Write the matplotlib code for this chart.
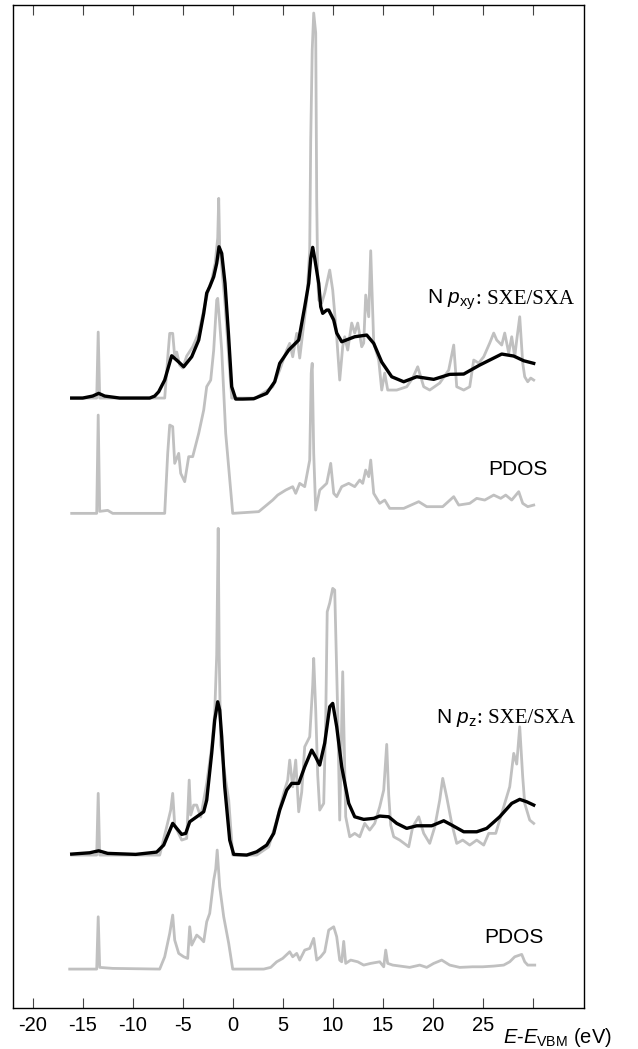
import matplotlib
matplotlib.use('Agg')
import matplotlib.pyplot as plt
import numpy as np

plt.rcParams['font.family'] = ['Liberation Sans', 'DejaVu Sans']
plt.rcParams['mathtext.fontset'] = 'custom'
plt.rcParams['mathtext.rm'] = 'Liberation Sans'
plt.rcParams['mathtext.it'] = 'Liberation Sans:italic'

# ---- data (energy in eV, intensity in arb. units above each baseline) ----
pxy_exp_e = [-16.1, -15.0, -14.0, -13.4, -12.8, -11.3, -8.3, -7.8, -7.4, -6.8, -6.4, -6.1,
             -5.5, -4.9, -4.1, -3.4, -2.9, -2.6, -2.3, -1.9, -1.6, -1.37, -1.1, -0.77, -0.43,
             -0.1, 0.3, 1.0, 2.1, 3.4, 4.2, 4.7, 5.6, 6.6, 7.2, 7.6, 7.8, 8.0, 8.2, 8.6, 8.8,
             9.0, 9.4, 9.6, 10.1, 10.4, 10.9, 12.2, 13.4, 14.1, 14.9, 15.9, 17.1, 18.4, 20.1,
             21.7, 23.1, 24.7, 26.9, 28.1, 29.1, 30.1]
pxy_exp_i = [0, 0, 2, 4.7, 2, 0, 0, 2, 6.3, 18, 32, 42.3,
             37, 31.3, 41.3, 58, 84.7, 105, 111.3, 121.3, 134.7, 151.3, 144.7, 114.7, 65,
             11.3, -1, -1, -0.7, 4.7, 16.3, 34.7, 48, 58, 91.3, 114.7, 139.7, 150.7, 139.7, 114.7, 91.3,
             84.7, 88, 88, 78, 65, 56.3, 61.3, 63, 54.7, 36, 21.3, 16.3, 21.3, 18.7,
             23.7, 24, 33, 44, 42, 37.3, 34.7]

pxy_calc_e = [-16.1, -13.6, -13.45, -13.3, -6.8, -6.5, -6.3, -6.0, -5.8, -5.6, -5.3, -5.0,
              -4.6, -4.0, -3.4, -2.9, -2.4, -2.1, -1.75, -1.5, -1.4, -1.3, -1.1, -0.8, -0.4,
              -0.1, 2.3, 4.0, 4.7, 5.4, 5.7, 6.0, 6.4, 6.7, 7.0, 7.4, 7.7, 7.8, 7.95, 8.1,
              8.3, 8.4, 8.5, 8.6, 8.9, 9.2, 9.7, 10.0, 10.4, 10.7, 11.0, 11.2, 11.5, 11.9,
              12.2, 12.5, 12.9, 13.1, 13.3, 13.6, 13.8, 14.1, 14.6, 14.9, 15.2, 15.5, 16.4,
              17.4, 18.0, 18.5, 19.1, 19.7, 20.7, 21.6, 22.1, 22.4, 23.1, 23.7, 24.1, 24.6,
              25.1, 25.7, 26.1, 26.4, 26.9, 27.2, 27.6, 27.9, 28.2, 28.4, 28.7, 29.0, 29.2,
              29.5, 29.8, 30.1]
pxy_calc_i = [0, 0, 66, 0, 0, 40, 64.7, 64.7, 41.3, 46, 33, 30,
              42, 51.3, 65, 88, 109.7, 118, 135, 160, 199.7, 150, 131.3, 98, 41.3,
              0, 0, 11.3, 28, 48, 54.7, 41.3, 64.7, 40, 65, 98, 148, 258, 348, 385,
              365, 198, 120, 98, 95, 105, 128, 108, 61.3, 18, 51.3, 61.3, 48, 75,
              65, 75, 51.3, 55, 103, 81.3, 147.3, 55, 38, 8, 25, 8, 8,
              11.3, 20, 31.3, 11.3, 8, 15, 28, 53, 11.3, 8, 11.3, 38, 35,
              41.3, 55, 65, 58, 53, 65, 45, 61.3, 41.3, 58, 81.3, 35, 21.3,
              16.3, 20, 18]

pxy_pdos_e = [-16.1, -13.6, -13.45, -13.3, -12.5, -12.0, -6.8, -6.5, -6.3, -6.0, -5.8, -5.4,
              -5.2, -4.8, -4.4, -4.0, -3.4, -2.9, -2.6, -2.2, -1.9, -1.6, -1.5, -1.3, -1.1,
              -0.7, 0.0, 2.6, 4.0, 4.5, 5.3, 6.0, 6.3, 6.7, 7.2, 7.7, 7.85, 7.95, 8.1, 8.3,
              8.7, 9.4, 9.8, 10.1, 10.4, 10.9, 11.6, 12.2, 12.7, 13.0, 13.3, 13.6, 13.8,
              14.1, 14.7, 15.2, 15.7, 17.1, 18.6, 19.4, 21.0, 22.1, 22.6, 23.7, 24.4, 25.2,
              26.1, 26.8, 27.3, 27.9, 28.6, 29.0, 29.5, 30.1]
pxy_pdos_i = [0, 0, 98.3, 2, 3, 0, 0, 60, 88.3, 86.7, 50, 60,
              40, 31.7, 56.7, 56.7, 80, 103.3, 126.7, 133.3, 163.3, 213.3, 215, 190, 163.3,
              80, 0, 1.7, 13.3, 18.3, 23.3, 26.7, 20, 30, 26.7, 53.3, 140, 150, 60, 3.3,
              23.3, 30, 50, 20, 16.7, 26.7, 30, 26.7, 33.3, 30, 43.3, 36.7, 53.3,
              20, 10, 13.3, 5, 5, 11.7, 6.7, 6.7, 16.7, 8.3, 10, 15, 13.3,
              18.3, 15, 18.3, 13.3, 21.7, 10, 6.7, 8.3]

pz_exp_e = [-16.1, -14.3, -13.4, -12.5, -9.7, -7.6, -6.9, -6.4, -6.0, -5.6, -5.1, -4.7,
            -4.3, -3.6, -2.9, -2.6, -2.1, -1.8, -1.5, -1.3, -1.1, -0.8, -0.3, 0.1, 1.4, 2.4,
            3.4, 4.1, 4.7, 5.4, 5.9, 6.6, 7.2, 7.9, 8.3, 8.7, 9.2, 9.7, 10.0, 10.4, 10.9,
            11.6, 12.2, 13.1, 14.1, 14.7, 15.6, 16.4, 17.4, 18.4, 19.9, 21.1, 21.9, 23.1,
            24.4, 25.4, 26.7, 27.9, 28.7, 29.4, 30.1]
pz_exp_i = [1, 2.3, 4.3, 1.7, 0.7, 3, 10, 22, 31.7, 26.7, 20.7, 21.7,
            33.3, 38.3, 43.3, 55, 102, 135, 153.3, 145, 118.3, 68.3, 15, 0.7, 0, 3.3,
            10, 21.7, 45, 65, 71.7, 71.7, 88.3, 105, 98, 90, 112, 148.3, 151.7, 128.3, 88.3,
            51.7, 38.3, 35.7, 36.7, 39, 38.3, 31.7, 26.7, 29.3, 29.3, 34.3, 30, 23.3,
            23.3, 26.7, 38.3, 51.7, 55.7, 53.3, 50]

pz_calc_e = [-16.1, -13.6, -13.45, -13.3, -7.3, -6.6, -6.2, -6.0, -5.8, -5.1, -4.6, -4.35,
             -4.2, -3.9, -3.6, -3.2, -2.6, -2.1, -1.8, -1.6, -1.45, -1.35, -1.2, -0.9, -0.4,
             0.0, 2.4, 3.6, 4.4, 5.1, 5.5, 5.7, 6.0, 6.3, 6.6, 6.9, 7.2, 7.7, 8.0, 8.1,
             8.3, 8.5, 8.7, 9.1, 9.3, 9.45, 9.7, 10.0, 10.2, 10.5, 10.7, 11.0, 11.3, 11.7,
             12.2, 12.7, 13.2, 13.7, 14.2, 14.7, 15.1, 15.4, 15.6, 15.8, 16.1, 16.7, 17.6,
             18.0, 18.6, 19.1, 19.7, 20.2, 20.7, 21.0, 21.4, 21.9, 22.4, 23.0, 23.7, 24.4,
             25.1, 25.6, 26.3, 26.9, 27.7, 28.1, 28.4, 28.7, 29.0, 29.2, 29.7, 30.1]
pz_calc_i = [0, 0, 61.7, 0, 0, 28.3, 45, 61.7, 30, 15, 16.7, 75,
             40, 50, 50, 38, 71.7, 108.3, 142, 200, 326.7, 200, 110, 88, 55,
             0, 0, 8.3, 35, 62, 75, 95, 68.3, 95, 43.3, 63, 108.3, 118.3, 170, 196.7,
             145, 80, 45, 51.7, 135, 243.3, 252, 266.7, 265, 141.7, 35, 183.3, 38.3, 18.3,
             21.7, 18.3, 31.7, 25, 31.7, 48.3, 65, 110.7, 60, 30, 18.3, 15, 8.3,
             28.3, 38.3, 21.7, 11.7, 28, 55, 76.7, 58, 31.7, 11.7, 15, 10, 15,
             10, 21.7, 21.7, 41.7, 68.3, 101.7, 91, 128.3, 78, 51.7, 35, 31.7]

pz_pdos_e = [-16.3, -13.6, -13.45, -13.3, -12.0, -7.3, -6.8, -6.3, -6.0, -5.8, -5.4, -4.9,
             -4.5, -4.3, -4.1, -3.6, -3.2, -2.9, -2.6, -2.3, -1.9, -1.7, -1.55, -1.3, -0.9,
             -0.4, 0.0, 3.1, 3.8, 4.4, 5.0, 5.7, 6.0, 6.4, 6.7, 7.2, 7.7, 8.1, 8.4, 8.8,
             9.2, 9.6, 10.1, 10.4, 10.7, 10.9, 11.1, 11.3, 11.8, 12.5, 13.1, 13.8, 14.7,
             15.1, 15.3, 15.5, 16.0, 17.7, 18.7, 19.4, 20.1, 20.9, 21.7, 22.7, 24.0, 25.0,
             26.1, 27.1, 27.7, 28.2, 28.9, 29.2, 29.5, 30.2]
pz_pdos_i = [0, 0, 52.3, 1.7, 0.7, 0, 12.3, 35.7, 54, 29, 15.7, 12.3,
             10.7, 42.3, 24, 34, 30.7, 27.3, 47.3, 55.7, 89, 100, 119, 82.3, 52.3,
             25.7, 0, 0, 1.7, 7.3, 10.7, 17.3, 12.3, 15.7, 9, 19, 20.7, 30.7, 9, 12.3,
             17.3, 39, 42.3, 32.3, 9, 7.3, 27.7, 5.7, 9, 7.3, 4, 5.7, 7.3,
             2.3, 19, 5.7, 4, 1.7, 4, 1.7, 5.7, 9, 4, 1.7, 2.3, 2.3,
             3, 4, 7.3, 12.3, 14.7, 7.3, 4, 4]

xticks = [-20, -15, -10, -5, 0, 5, 10, 15, 20, 25, 30]
xticklabels = ['-20', '-15', '-10', '-5', '0', '5', '10', '15', '20', '25', '']

# vertical offsets of the four traces
off_pxy = 610
off_pxy_pdos = 494.7
off_pz = 153
off_pz_pdos = 39

grey = '#c0c0c0'

fig = plt.figure(figsize=(6.38, 10.49), dpi=100)
ax = fig.add_axes([0.0199, 0.039, 0.8955, 0.9562])

ax.plot(pxy_calc_e, np.array(pxy_calc_i) + off_pxy, color=grey, lw=2.0)
ax.plot(pxy_pdos_e, np.array(pxy_pdos_i) + off_pxy_pdos, color=grey, lw=2.0)
ax.plot(pz_calc_e, np.array(pz_calc_i) + off_pz, color=grey, lw=2.0)
ax.plot(pz_pdos_e, np.array(pz_pdos_i) + off_pz_pdos, color=grey, lw=2.0)
ax.plot(pxy_exp_e, np.array(pxy_exp_i) + off_pxy, color='black', lw=2.4,
        solid_joinstyle='round')
ax.plot(pz_exp_e, np.array(pz_exp_i) + off_pz, color='black', lw=2.4,
        solid_joinstyle='round')

ax.set_xlim(-22.0, 35.13)
ax.set_ylim(0, 1003)
ax.set_yticks([])
ax.set_xticks(xticks)
ax.set_xticklabels(xticklabels)
ax.tick_params(axis='x', direction='in', top=True, length=7, width=0.8,
               color='#444444', labelsize=14.5, pad=6)
for s in ax.spines.values():
    s.set_linewidth(1.0)


def label(x, y, head, tail):
    t1 = ax.text(x, y, head, fontsize=15, va='baseline')
    fig.canvas.draw()
    bb = t1.get_window_extent()
    xd = ax.transData.inverted().transform((bb.x1, 0))[0]
    ax.text(xd, y, tail, fontsize=15, va='baseline', family='Liberation Serif')


label(19.43, 704, r'N $p_{\mathrm{xy}}$', ': SXE/SXA')
label(20.3, 285.3, r'N $p_{\mathrm{z}}$', ': SXE/SXA')
ax.text(25.53, 533, 'PDOS', fontsize=15, va='baseline')
ax.text(25.2, 64.7, 'PDOS', fontsize=15, va='baseline')

ax.text(27.0, -0.0345, r'$E$-$E_{\mathrm{VBM}}$ (eV)', fontsize=14.5, va='baseline',
        transform=ax.get_xaxis_transform())

plt.savefig('out.png', dpi=100)
